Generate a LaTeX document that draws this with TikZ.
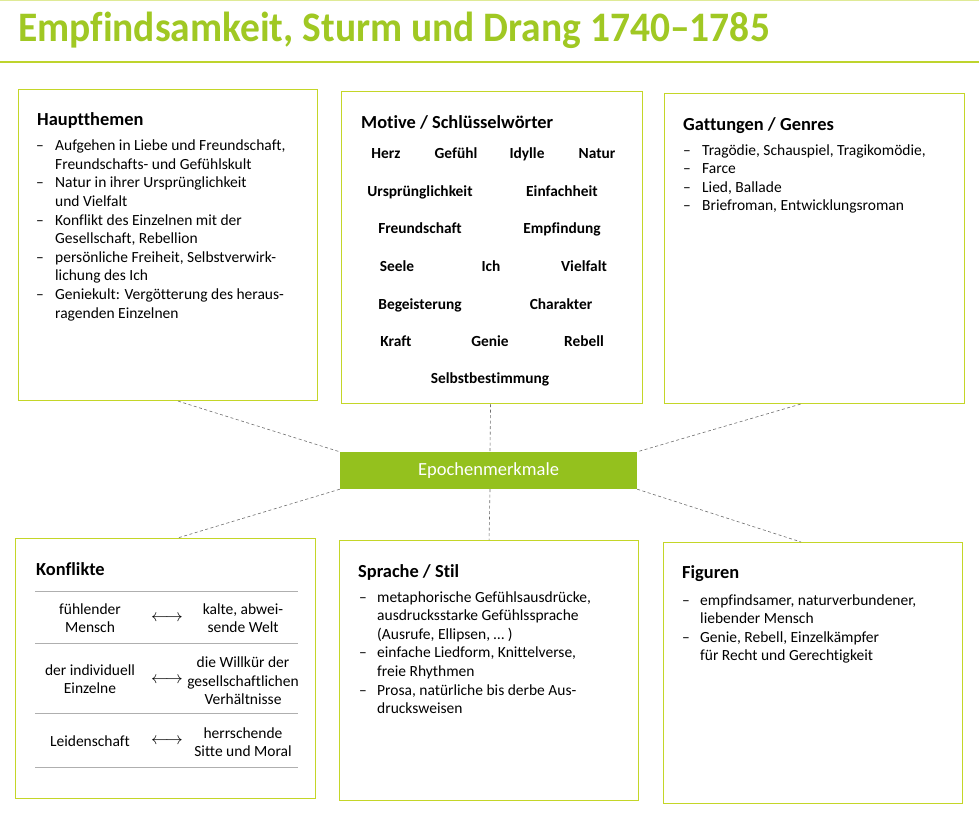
\documentclass[tikz,border=0pt]{standalone}
\usepackage{fontspec}
\setmainfont{Carlito}[Ligatures={TeX,NoCommon}]
\usetikzlibrary{calc}
\definecolor{titlegreen}{RGB}{160,200,35}
\definecolor{linegreen}{RGB}{190,212,45}
\definecolor{boxgreen}{RGB}{196,214,40}
\definecolor{fillgreen}{RGB}{148,193,30}
\definecolor{dashgray}{RGB}{110,110,110}
\definecolor{rulegray}{RGB}{175,175,175}
\newcommand{\dashitem}{\textendash}
\begin{document}
\begin{tikzpicture}[x=1pt,y=-1pt,
  panel/.style={draw=boxgreen, line width=1.1pt, anchor=north west, inner sep=0pt},
  head/.style={anchor=base west, inner sep=0pt, font=\fontsize{18.4}{21}\selectfont\bfseries},
  body/.style={anchor=base west, inner sep=0pt, font=\fontsize{15.5}{18.6}\selectfont},
  kw/.style={anchor=base, inner sep=0pt, font=\fontsize{15.4}{18}\selectfont\bfseries},
  ktext/.style={inner sep=0pt, align=center, font=\fontsize{15.5}{18.5}\selectfont},
  arr/.style={inner sep=0pt, font=\fontsize{17}{18}\selectfont},
  link/.style={draw=dashgray, dash pattern=on 3pt off 2.5pt, line width=0.6pt},
  tabrule/.style={draw=rulegray, line width=0.6pt}
]
\useasboundingbox[fill=white] (0,0) rectangle (979,815);

% title and rules
\draw[linegreen!50, line width=1pt] (0,0.8) -- (979,0.8);
\node[anchor=base west, inner sep=0pt, text=titlegreen,
      font=\fontsize{42}{46}\selectfont\bfseries] (title) at (18,41.5)
  {\scalebox{0.94}[1]{Empfindsamkeit, Sturm und Drang 1740\textendash 1785}};
\draw[linegreen, line width=1.3pt] (0,62) -- (979,62);

% panels
\node[panel, minimum width=299pt, minimum height=311pt] (haupt) at (18,89) {};
\node[panel, minimum width=301pt, minimum height=312pt] (motive) at (341,91) {};
\node[panel, minimum width=300pt, minimum height=310pt] (gatt) at (664,93) {};
\node[panel, minimum width=300pt, minimum height=260pt] (konf) at (15,538) {};
\node[panel, minimum width=299pt, minimum height=260pt] (sprache) at (339,540) {};
\node[panel, minimum width=299pt, minimum height=261pt] (fig) at (663,542) {};

% centre box
\node[fill=fillgreen, minimum width=297pt, minimum height=37pt, inner sep=0pt,
      text=white, font=\fontsize{18.5}{20}\selectfont] (epoch) at (488.5,470.5) {Epochenmerkmale};

% connectors
\draw[link] ([xshift=10pt]haupt.south) -- (epoch.north west);
\draw[link] ([xshift=-1.5pt]motive.south) -- ([xshift=1.5pt]epoch.north);
\draw[link] ([xshift=-14pt]gatt.south) -- (epoch.north east);
\draw[link] (epoch.south west) -- ([xshift=12pt]konf.north);
\draw[link] ([xshift=1.5pt]epoch.south) -- (sprache.north);
\draw[link] (epoch.south east) -- ([xshift=-12pt]fig.north);

% Hauptthemen
\node[head] (hauptH) at (37,125) {Hauptthemen};
\node[body] (hauptT) at (36,150.7) {\begin{tabular}[t]{@{}p{19pt}@{}l@{}}
\dashitem & Aufgehen in Liebe und Freundschaft,\\
 & Freundschafts- und Gefühlskult\\
\dashitem & Natur in ihrer Ursprünglichkeit\\
 & und Vielfalt\\
\dashitem & Konflikt des Einzelnen mit der\\
 & Gesellschaft, Rebellion\\
\dashitem & persönliche Freiheit, Selbstverwirk-\\
 & lichung des Ich\\
\dashitem & Geniekult: Vergötterung des heraus-\\
 & ragenden Einzelnen
\end{tabular}};

% Motive
\node[head] (motH) at (361,128) {Motive / Schlüsselwörter};
\node[kw] (k1) at (386,158) {Herz};
\node[kw] (k2) at (456,158) {Gefühl};
\node[kw] (k3) at (527,158) {Idylle};
\node[kw] (k4) at (597,158) {Natur};
\node[kw] (k5) at (420,196) {Ursprünglichkeit};
\node[kw] (k6) at (562,196) {Einfachheit};
\node[kw] (k7) at (420,233) {Freundschaft};
\node[kw] (k8) at (562,233) {Empfindung};
\node[kw] (k9) at (397,271) {Seele};
\node[kw] (k10) at (491,271) {Ich};
\node[kw] (k11) at (584,271) {Vielfalt};
\node[kw] (k12) at (420,309) {Begeisterung};
\node[kw] (k13) at (561,309) {Charakter};
\node[kw] (k14) at (396,346) {Kraft};
\node[kw] (k15) at (490,346) {Genie};
\node[kw] (k16) at (584,346) {Rebell};
\node[kw] (k17) at (490,383) {Selbstbestimmung};

% Gattungen
\node[head] (gattH) at (683,130) {Gattungen / Genres};
\node[body] (gattT) at (683,155) {\begin{tabular}[t]{@{}p{19pt}@{}l@{}}
\dashitem & Tragödie, Schauspiel, Tragikomödie,\\
\dashitem & Farce\\
\dashitem & Lied, Ballade\\
\dashitem & Briefroman, Entwicklungsroman
\end{tabular}};

% Konflikte
\node[head] (konfH) at (36,575) {Konflikte};
\draw[tabrule] (35,591) -- (298,591);
\draw[tabrule] (35,643) -- (298,643);
\draw[tabrule] (35,713) -- (298,713);
\draw[tabrule] (35,767) -- (298,767);
\node[ktext] (l1) at (90,618) {fühlender\\Mensch};
\node[arr] (a1) at (167,618) {$\longleftrightarrow$};
\node[ktext] (r1) at (243,618) {kalte, abwei-\\sende Welt};
\node[ktext] (l2) at (90,679) {der individuell\\Einzelne};
\node[arr] (a2) at (167,680) {$\longleftrightarrow$};
\node[ktext] (r2) at (243,681) {die Willkür der\\gesellschaftlichen\\Verhältnisse};
\node[ktext] (l3) at (90,741) {Leidenschaft};
\node[arr] (a3) at (167,741) {$\longleftrightarrow$};
\node[ktext] (r3) at (243,742) {herrschende\\Sitte und Moral};

% Sprache / Stil
\node[head] (sprH) at (358,577) {Sprache / Stil};
\node[body] (sprT) at (359,602) {\begin{tabular}[t]{@{}p{18pt}@{}l@{}}
\dashitem & metaphorische Gefühlsausdrücke,\\
 & ausdrucksstarke Gefühlssprache\\
 & (Ausrufe, Ellipsen, \dots\ )\\
\dashitem & einfache Liedform, Knittelverse,\\
 & freie Rhythmen\\
\dashitem & Prosa, natürliche bis derbe Aus-\\
 & drucksweisen
\end{tabular}};

% Figuren
\node[head] (figH) at (682,578) {Figuren};
\node[body] (figT) at (682,605) {\begin{tabular}[t]{@{}p{18pt}@{}l@{}}
\dashitem & empfindsamer, naturverbundener,\\
 & liebender Mensch\\
\dashitem & Genie, Rebell, Einzelkämpfer\\
 & für Recht und Gerechtigkeit
\end{tabular}};
\end{tikzpicture}
\end{document}
